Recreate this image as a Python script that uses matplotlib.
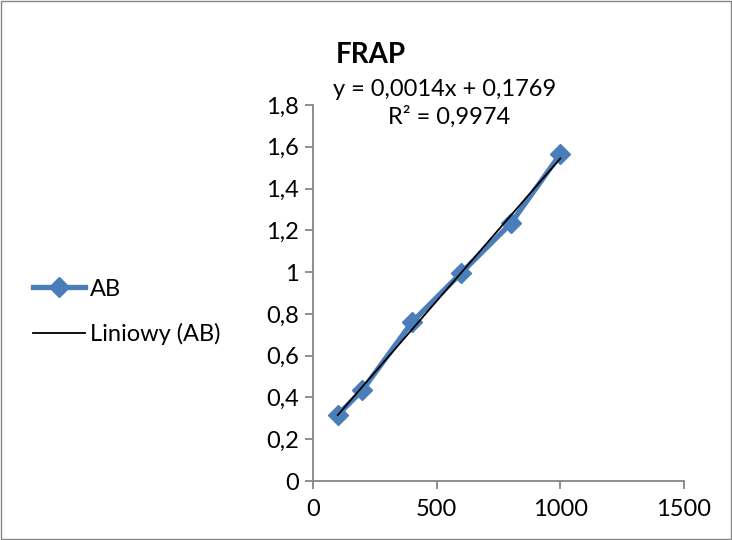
import numpy as np
import matplotlib
matplotlib.use("Agg")
import matplotlib.pyplot as plt
from matplotlib.patches import Rectangle

plt.rcParams['font.family'] = ['Lato', 'DejaVu Sans']

x_vals = [100, 200, 400, 600, 800, 1000]
y_vals = [0.316, 0.435, 0.760, 0.997, 1.233, 1.565]
series_name = "AB"
trend_name = "Liniowy (AB)"
title = "FRAP"
eq_text = "y = 0,0014x + 0,1769"
r2_text = "R² = 0,9974"
x_ticks = [0, 500, 1000, 1500]
y_ticks = [0, 0.2, 0.4, 0.6, 0.8, 1.0, 1.2, 1.4, 1.6, 1.8]

def fmt(v):
    s = ("%g" % round(v, 1))
    return s.replace('.', ',')

fig = plt.figure(figsize=(7.32, 5.40), dpi=100)
fig.patches.append(Rectangle((0.002, 0.002), 0.996, 0.996, transform=fig.transFigure,
                             fill=False, edgecolor='#868686', linewidth=1.0))
ax = fig.add_axes([313/732, 59/540, 371/732, 376/540])

blue = '#4a7ebb'
ax.plot(x_vals, y_vals, color=blue, linewidth=3.8, marker='D', markersize=10,
        markerfacecolor=blue, markeredgecolor=blue, label=series_name, zorder=2)
coef = np.polyfit(x_vals, y_vals, 1)
xt = np.array([min(x_vals), max(x_vals)])
ax.plot(xt, np.polyval(coef, xt), color='black', linewidth=1.3, label=trend_name, zorder=3)

ax.set_xlim(0, 1500)
ax.set_ylim(0, 1.8)
ax.set_xticks(x_ticks)
ax.set_xticklabels([str(t) for t in x_ticks])
ax.set_yticks(y_ticks)
ax.set_yticklabels([fmt(t) for t in y_ticks])
for s in ['top', 'right']:
    ax.spines[s].set_visible(False)
for s in ['left', 'bottom']:
    ax.spines[s].set_color('#868686')
    ax.spines[s].set_linewidth(1.3)
ax.tick_params(direction='out', length=6, width=1.3, color='#868686',
               labelsize=17, labelcolor='black')
ax.tick_params(axis='y', pad=4)
ax.tick_params(axis='x', pad=7)

fig.text(371/732, 1 - 55/540, title, ha='center', va='center', fontsize=20, fontweight='bold')
fig.text(445/732, 1 - 90/540, eq_text, ha='center', va='center', fontsize=17)
fig.text(449/732, 1 - 117/540, r2_text, ha='center', va='center', fontsize=17)

h, l = ax.get_legend_handles_labels()
leg = fig.legend(h, l, loc='center left', bbox_to_anchor=(24/732, 1 - 312/540),
                 frameon=False, fontsize=17, handlelength=2.2, handletextpad=0.2,
                 labelspacing=1.0, borderaxespad=0)
fig.savefig('out.png', dpi=100)
